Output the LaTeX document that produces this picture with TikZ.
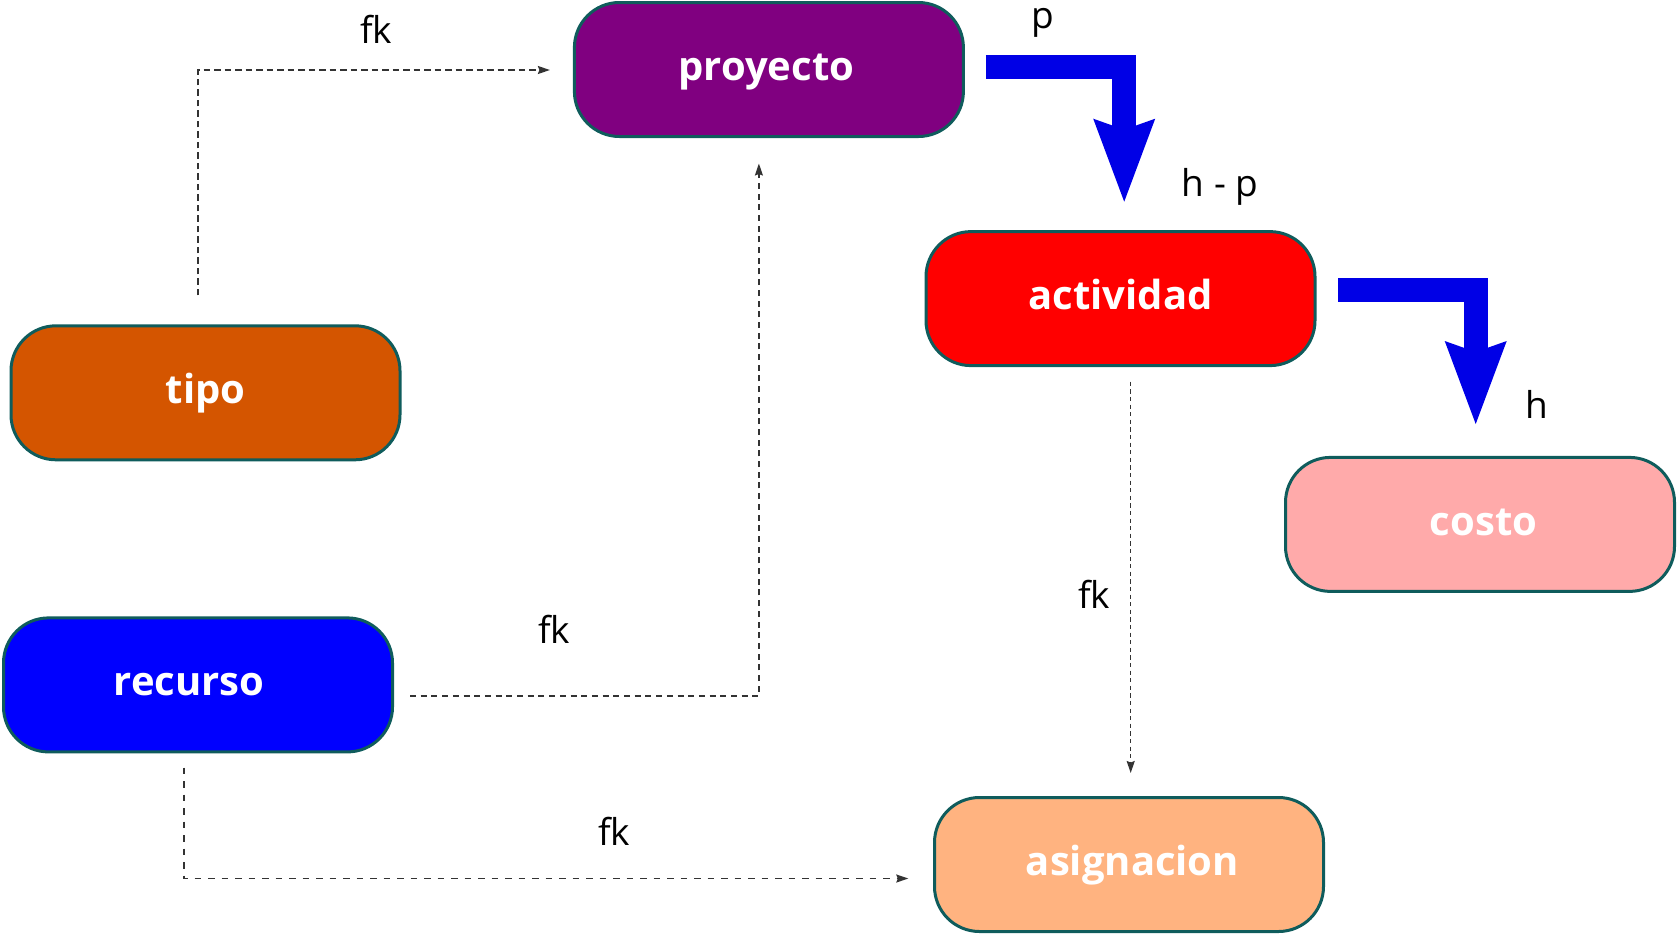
\documentclass[tikz,border=0pt]{standalone}
\usepackage{fontspec}
\setmainfont{Open Sans}
\usetikzlibrary{arrows.meta,calc}
\definecolor{cproy}{HTML}{800080}
\definecolor{cact}{HTML}{FF0000}
\definecolor{ctipo}{HTML}{D45500}
\definecolor{crec}{HTML}{0000FF}
\definecolor{ccosto}{HTML}{FFAAAA}
\definecolor{casig}{HTML}{FFB380}
\definecolor{cborder}{HTML}{0F5C5C}
\definecolor{cbig}{HTML}{0000E6}
\definecolor{cdash}{HTML}{333333}
\tikzset{
  entity/.style={draw=cborder, line width=3pt, rounded corners=45pt,
    minimum width=389pt, minimum height=134pt, inner sep=0pt,
    text=white, font=\fontsize{40}{40}\selectfont\bfseries,
    text height=32pt, text depth=10pt},
  lbl/.style={font=\fontsize{37}{37}\selectfont, text=black, inner sep=0pt, anchor=base},
  fklink/.style={draw=cdash, line width=1.5pt,
    -{Stealth[length=12pt,width=8pt,inset=1.5pt]}},
  biglink/.style={draw=cbig, line width=24pt, line join=miter,
    -{Stealth[length=83pt,width=62pt,inset=11pt,line width=0pt]}}
}
\begin{document}
\begin{tikzpicture}[x=1pt,y=-1pt]
\useasboundingbox (0,0) rectangle (1678,935);
% nodes
\node[entity, fill=cproy]  (proyecto)   at (768.9,69.5)  {\hspace*{-5pt}proyecto};
\node[entity, fill=cact]   (actividad)  at (1120.5,298.6) {actividad};
\node[entity, fill=ctipo]  (tipo)       at (205.5,392.8) {tipo};
\node[entity, fill=crec]   (recurso)    at (198,684.9)   {\hspace*{-18pt}recurso};
\node[entity, fill=ccosto] (costo)      at (1480,524.4)  {\hspace*{7pt}costo};
\node[entity, fill=casig]  (asignacion) at (1129,864.5)  {\hspace*{7pt}asignacion};
% labels
\node[lbl] (l1) at (376,43.3) {fk};
\node[lbl] (l2) at (554,643.3) {fk};
\node[lbl] (l3) at (1094,608.3) {fk};
\node[lbl] (l4) at (614,845) {fk};
\node[lbl] (l5) at (1043,28.3) {p};
\node[lbl] (l6) at (1220,196.7) {h - p};
\node[lbl] (l7) at (1537,418.3) {h};
% dashed fk connectors
\coordinate (s1) at ($(tipo.north)+(-7.5,-29)$);
\coordinate (e1) at ($(proyecto.west)+(-23,0.5)$);
\draw[fklink, dash pattern=on 6.5pt off 4pt] (s1) |- (e1);
\coordinate (s2) at ($(recurso.east)+(16,11)$);
\coordinate (e2) at ($(proyecto.south)+(-10,25.5)$);
\draw[fklink, dash pattern=on 6pt off 4.7pt] (s2) -| (e2);
\coordinate (s3) at ($(actividad.south)+(10.2,14.6)$);
\coordinate (e3) at ($(asignacion.north)+(1.7,-23)$);
\draw[fklink, dash pattern=on 4.3pt off 3.3pt] (s3) -- (s3 |- e3);
\coordinate (s4) at ($(recurso.south)+(-14,14.3)$);
\coordinate (e4) at ($(asignacion.west)+(-24.7,14)$);
\draw[fklink, dash pattern=on 6.5pt off 7pt] (s4) |- (e4);
% big blue hierarchy arrows
\coordinate (b1s) at ($(proyecto.east)+(21,-2.8)$);
\coordinate (b1e) at ($(actividad.north)+(3.7,-28.4)$);
\draw[biglink] (b1s) -| (b1e);
\coordinate (b2s) at ($(actividad.east)+(21.6,-9.1)$);
\coordinate (b2e) at ($(costo.north)+(-4.3,-31.9)$);
\draw[biglink] (b2s) -| (b2e);
\end{tikzpicture}
\end{document}
